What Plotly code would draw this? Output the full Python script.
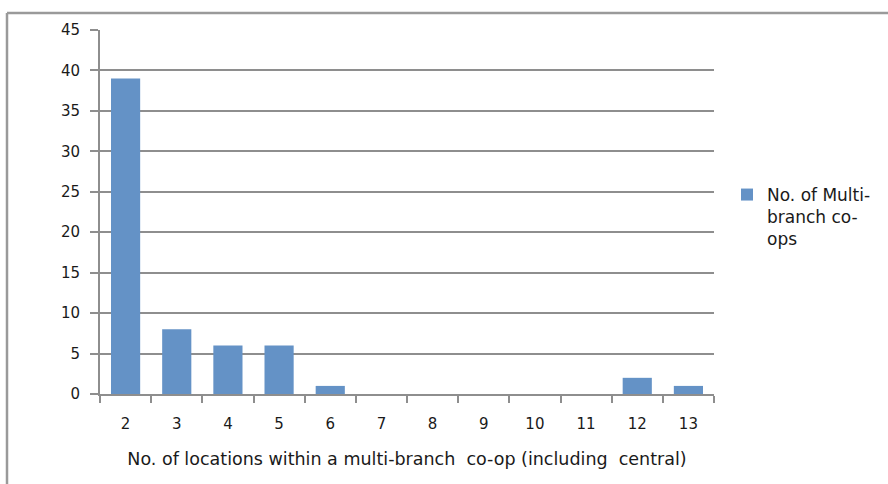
import plotly.graph_objects as go

categories = ["2", "3", "4", "5", "6", "7", "8", "9", "10", "11", "12", "13"]
values = [39, 8, 6, 6, 1, 0, 0, 0, 0, 0, 2, 1]
series_name = "No. of Multi-<br>branch co-<br>ops"
x_title = "No. of locations within a multi-branch  co-op (including  central)"

W, H = 888, 484
L, R, T, B = 100, 714, 30, 394
pw, ph = R - L, B - T

def px(x):
    return (x - L) / pw

def py(y):
    return (B - y) / ph

grid = "#8e8e8e"
font = "DejaVu Sans, Verdana, sans-serif"

fig = go.Figure(go.Bar(
    x=categories, y=values, name=series_name,
    marker=dict(color="#6492c6", line=dict(width=0)),
    showlegend=True,
))

fig.update_layout(
    width=W, height=H,
    margin=dict(l=L, r=W - R, t=T, b=H - B, pad=0, autoexpand=False),
    paper_bgcolor="white", plot_bgcolor="white",
    bargap=0.43,
    font=dict(family=font, size=15, color="#1a1a1a"),
    xaxis=dict(
        type="category", tickson="boundaries", ticks="outside", ticklen=7,
        tickwidth=2, tickcolor=grid, showline=True, linecolor=grid, linewidth=2,
        showgrid=False, tickfont=dict(size=15), ticklabelstandoff=15,
        title=dict(text=x_title, font=dict(size=17.5), standoff=21),
    ),
    yaxis=dict(
        range=[0, 45], dtick=5, ticks="outside", ticklen=8, tickwidth=2,
        tickcolor=grid, showline=True, linecolor=grid, linewidth=2,
        showgrid=True, gridcolor=grid, gridwidth=2, zeroline=False,
        tickfont=dict(size=15), ticklabelstandoff=7,
    ),
    legend=dict(
        x=px(727), y=py(177), xanchor="left", yanchor="top",
        font=dict(size=17), valign="top", itemwidth=30,
        tracegroupgap=0,
    ),
    shapes=[
        dict(type="line", xref="paper", yref="paper",
             x0=px(7), x1=px(7), y0=py(13), y1=py(600),
             line=dict(color="#9a9a9a", width=2.5)),
        dict(type="line", xref="paper", yref="paper",
             x0=px(7), x1=px(1000), y0=py(13), y1=py(13),
             line=dict(color="#9a9a9a", width=2.5)),
    ],
)

fig.write_html("out.html", config={"displayModeBar": False},
               post_script="document.body.style.margin='0';")
